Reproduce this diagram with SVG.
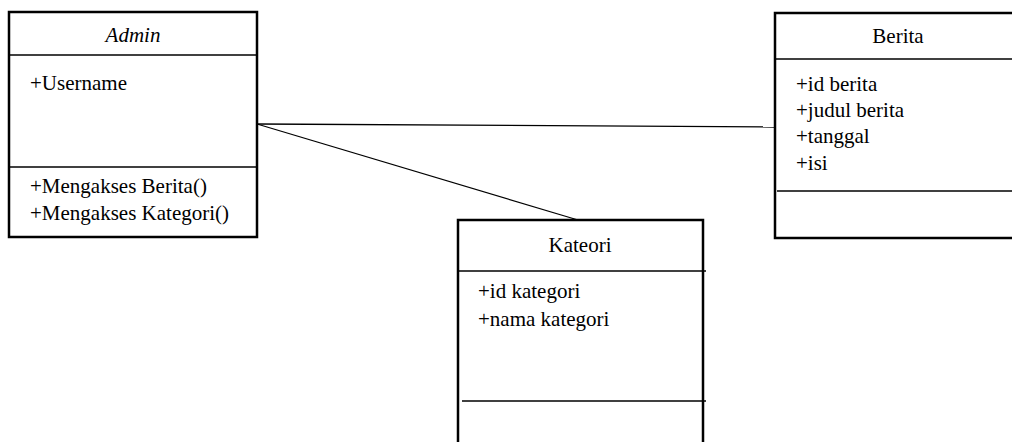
<svg xmlns="http://www.w3.org/2000/svg" width="1012" height="442" viewBox="0 0 1012 442">
<style>
.box{fill:#fff;stroke:#000;stroke-width:2.5}
.ln{stroke:#000;stroke-width:1.3;fill:none}
.t{font-family:'Liberation Serif','Times New Roman',serif;font-size:21px;fill:#000}
.c{text-anchor:middle}
</style>
<rect width="1012" height="442" fill="#fff"/>
<g id="connectors">
<line class="ln" x1="257" y1="124" x2="775" y2="127"/>
<line class="ln" x1="257" y1="124" x2="578" y2="220"/>
</g>
<g id="admin">
<rect class="box" x="9" y="12" width="248" height="225"/>
<line class="ln" x1="9" y1="55" x2="257" y2="55"/>
<line class="ln" x1="9" y1="167" x2="257" y2="167"/>
<text class="t c" x="133" y="42" font-style="italic">Admin</text>
<text class="t" x="30" y="90">+Username</text>
<text class="t" x="30" y="193">+Mengakses Berita()</text>
<text class="t" x="30" y="220">+Mengakses Kategori()</text>
</g>
<g id="kateori">
<rect class="box" x="458" y="220" width="245" height="235"/>
<line class="ln" x1="458" y1="271" x2="706" y2="271"/>
<line class="ln" x1="462" y1="401" x2="706" y2="401"/>
<text class="t c" x="580" y="252">Kateori</text>
<text class="t" x="478" y="298">+id kategori</text>
<text class="t" x="478" y="326">+nama kategori</text>
</g>
<g id="berita">
<rect class="box" x="775" y="13" width="245" height="225"/>
<line class="ln" x1="775" y1="59" x2="1012" y2="59"/>
<line class="ln" x1="777" y1="191" x2="1012" y2="191"/>
<text class="t c" x="898" y="43">Berita</text>
<text class="t" x="796" y="91">+id berita</text>
<text class="t" x="796" y="117">+judul berita</text>
<text class="t" x="796" y="143">+tanggal</text>
<text class="t" x="796" y="170">+isi</text>
</g>
</svg>
